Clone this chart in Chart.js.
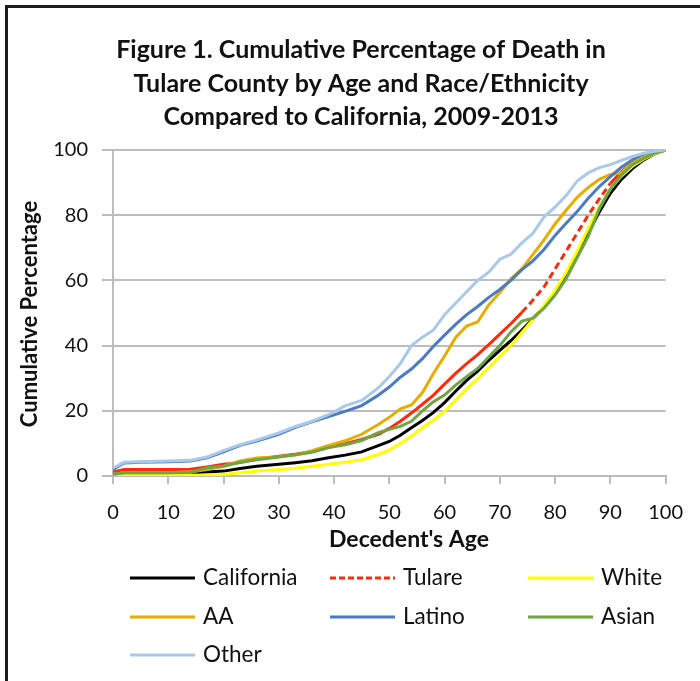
<!DOCTYPE html>
<html>
<head>
<meta charset="utf-8">
<title>Cumulative Percentage of Death - Tulare County</title>
<script src="https://cdn.jsdelivr.net/npm/chart.js@4.4.0/dist/chart.umd.min.js"></script>
<style>
  html, body { margin: 0; padding: 0; background: #fff; }
  #wrap { width: 700px; height: 681px; }
</style>
</head>
<body>
<div id="wrap"><canvas id="deathChart" width="700" height="681"></canvas></div>
<script>
// Datos (edad del fallecido -> % acumulado)
const ages = [0, 2, 5, 10, 14, 17, 20, 23, 26, 30, 33, 36, 39, 42, 45, 48,
  50, 52, 54, 56, 58, 60, 62, 64, 66, 68, 70, 72, 74, 76, 78, 80, 82, 84, 86, 88, 90, 92, 94, 96, 98, 100];

const california = [0.8, 0.8, 0.8, 0.8, 0.9, 1.2, 1.5, 2.3, 3.0, 3.6, 4.1, 4.7, 5.6, 6.4, 7.4, 9.3,
  10.6, 12.5, 14.8, 17.0, 19.5, 22.5, 26.0, 29.3, 32.2, 35.5, 38.5, 41.5, 44.8, 48.2, 52.0, 56.5, 61.5, 67.5, 74.5, 81.0, 86.7, 91.0, 94.3, 96.9, 98.8, 100];
const tulare = [1.2, 2.0, 2.0, 2.0, 2.1, 2.8, 3.6, 4.1, 5.1, 6.1, 6.7, 7.5, 8.8, 9.9, 11.2, 12.8,
  14.6, 16.8, 19.3, 22.0, 24.8, 28.2, 31.5, 34.5, 37.2, 40.3, 43.5, 46.7, 50.2, 54.0, 58.0, 63.5, 69.0, 74.5, 80.0, 85.0, 89.8, 93.3, 96.2, 98.2, 99.3, 100];
const white = [0.2, 0.2, 0.2, 0.2, 0.2, 0.3, 0.5, 1.0, 1.5, 2.0, 2.4, 3.0, 3.6, 4.2, 5.0, 6.6,
  8.0, 10.0, 12.3, 14.8, 17.2, 19.8, 23.3, 26.8, 29.8, 33.2, 36.6, 40.0, 44.0, 48.0, 52.3, 57.0, 62.5, 69.0, 76.0, 82.5, 88.0, 92.0, 95.0, 97.2, 98.8, 100];
const aa = [0.5, 1.0, 1.0, 1.0, 1.2, 2.0, 3.0, 4.6, 5.5, 5.9, 6.4, 7.8, 9.4, 10.8, 12.8, 15.8,
  18.0, 20.6, 21.8, 25.6, 31.5, 36.8, 42.5, 46.0, 47.3, 52.5, 56.3, 60.5, 63.5, 68.0, 72.4, 77.3, 81.5, 85.5, 88.5, 91.0, 92.5, 93.0, 96.2, 98.0, 99.3, 100];
const latino = [2.0, 4.0, 4.2, 4.4, 4.6, 5.6, 7.4, 9.4, 10.7, 12.8, 14.9, 16.6, 18.2, 19.8, 21.6, 24.8,
  27.3, 30.3, 32.8, 36.0, 39.8, 43.2, 46.5, 49.5, 52.0, 54.8, 57.2, 60.0, 63.3, 66.0, 69.5, 73.8, 77.5, 81.1, 85.2, 88.8, 91.8, 94.7, 97.0, 98.8, 99.6, 100];
const asian = [0.5, 1.0, 1.0, 1.0, 1.1, 2.5, 3.0, 4.2, 5.0, 5.8, 6.5, 7.3, 8.7, 9.6, 10.9, 13.3,
  14.3, 15.2, 16.8, 20.0, 22.8, 24.8, 27.9, 30.5, 33.0, 36.5, 40.0, 44.2, 47.5, 48.4, 51.5, 55.5, 60.5, 67.0, 73.5, 82.0, 88.0, 92.3, 95.5, 97.4, 99.0, 100];
const other = [2.5, 4.2, 4.4, 4.6, 4.8, 5.8, 7.8, 9.6, 11.0, 13.2, 15.2, 16.8, 18.8, 21.5, 23.2, 27.0,
  30.5, 34.5, 40.0, 42.6, 44.8, 49.5, 53.0, 56.5, 60.0, 62.5, 66.5, 68.0, 71.5, 74.5, 79.5, 82.5, 86.0, 90.5, 93.0, 94.6, 95.5, 96.8, 98.0, 99.0, 99.6, 100];

const seriesNames = ['California', 'Tulare', 'White', 'AA', 'Latino', 'Asian', 'Other'];
const seriesValues = [california, tulare, white, aa, latino, asian, other];
const seriesColors = ['#000000', '#ff2a0a', '#ffff00', '#e8ac00', '#4a7bc4', '#6fa543', '#a9c9ec'];

const xTickStep = 10;   // 0, 10, ... 100
const yTickStep = 20;   // 0, 20, ... 100
const titleLines = [
  'Figure 1. Cumulative Percentage of Death in',
  'Tulare County by Age and Race/Ethnicity',
  'Compared to California, 2009-2013'
];
const xTitle = "Decedent's Age";
const yTitle = 'Cumulative Percentage';

const FONT = 'Lato, "Open Sans", sans-serif';
const GRID = '#bdbdbd';

// Excel reinicia el guion en cada tramo: sólo se ve cortado donde la curva es empinada
const steep = ctx => Math.abs(ctx.p1.y - ctx.p0.y) / Math.max(1, ctx.p1.x - ctx.p0.x) > 1.1;

const datasets = seriesNames.map((name, i) => ({
  label: name,
  data: ages.map((a, k) => ({ x: a, y: seriesValues[i][k] })),
  borderColor: seriesColors[i],
  backgroundColor: seriesColors[i],
  borderWidth: 3,
  pointRadius: 0,
  tension: 0,
  order: seriesNames.length - i, // la última serie queda encima, como en Excel
  legendDash: name === 'Tulare' ? [6, 3] : [],
  segment: name === 'Tulare' ? { borderDash: ctx => steep(ctx) ? [7, 4] : undefined } : undefined
}));

// Marco, título, títulos de ejes y leyenda en tres columnas
const decorPlugin = {
  id: 'decor',
  afterDraw(chart) {
    const c = chart.ctx;
    c.save();
    c.strokeStyle = '#1c1c1c';
    c.lineWidth = 3;
    c.beginPath();
    c.moveTo(6.5, 681);
    c.lineTo(6.5, 6.5);
    c.lineTo(700, 6.5);
    c.stroke();

    c.fillStyle = '#111';
    c.textAlign = 'center';
    c.textBaseline = 'middle';
    c.font = 'bold 25px ' + FONT;
    titleLines.forEach((t, i) => c.fillText(t, 361, 50 + i * 33.5));

    c.font = 'bold 23px ' + FONT;
    c.fillText(xTitle, 409, 540);
    c.font = 'bold 22px ' + FONT;
    c.save();
    c.translate(30, 314);
    c.rotate(-Math.PI / 2);
    c.fillText(yTitle, 0, 0);
    c.restore();

    const colX = [130, 330, 528];
    const rowY = [578, 617, 655];
    c.font = '22.5px ' + FONT;
    c.textAlign = 'left';
    chart.data.datasets.forEach((ds, i) => {
      const x = colX[i % 3], y = rowY[Math.floor(i / 3)];
      c.strokeStyle = ds.borderColor;
      c.lineWidth = 3;
      c.setLineDash(ds.legendDash);
      c.beginPath();
      c.moveTo(x, y);
      c.lineTo(x + 65, y);
      c.stroke();
      c.setLineDash([]);
      c.fillStyle = '#111';
      c.fillText(ds.label, x + 73, y);
    });
    c.restore();
  }
};

const chart = new Chart(document.getElementById('deathChart'), {
  type: 'line',
  data: { datasets },
  plugins: [decorPlugin],
  options: {
    responsive: false,
    animation: false,
    devicePixelRatio: 1,
    layout: { padding: { top: 150, right: 31, bottom: 0, left: 0 } },
    plugins: { legend: { display: false }, title: { display: false }, tooltip: { enabled: false } },
    scales: {
      x: {
        type: 'linear',
        min: 0,
        max: 100,
        afterFit: s => { s.height = 205; },
        ticks: { stepSize: xTickStep, color: '#111', padding: 17, maxRotation: 0, font: { family: FONT, size: 20 } },
        grid: { drawOnChartArea: false, drawTicks: true, tickLength: 8, color: GRID, lineWidth: 2 },
        border: { display: true, color: GRID, width: 2 }
      },
      y: {
        min: 0,
        max: 100,
        afterFit: s => { s.width = 113; },
        ticks: { stepSize: yTickStep, color: '#111', padding: 14, font: { family: FONT, size: 20 } },
        grid: { color: GRID, lineWidth: 2, tickLength: 11 },
        border: { display: true, color: GRID, width: 2 }
      }
    }
  }
});
</script>
</body>
</html>
